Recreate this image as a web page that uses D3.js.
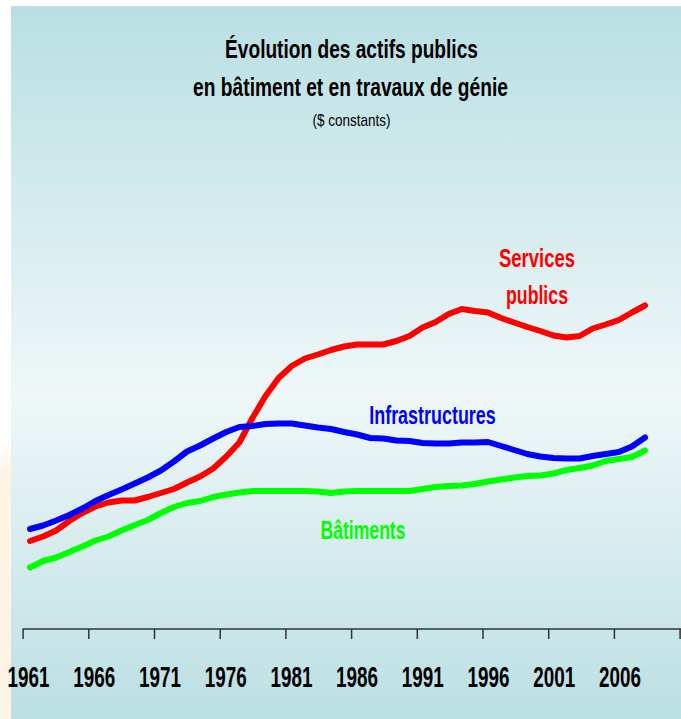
<!DOCTYPE html>
<html>
<head>
<meta charset="utf-8">
<script src="https://cdn.jsdelivr.net/npm/d3@7"></script>
<style>
  body { margin: 0; background: #ffffff; }
  svg { display: block; }
</style>
</head>
<body>
<div id="chart"></div>
<script>
var width = 681;
var height = 719;

// data (index, $ constants)
var years = d3.range(1961, 2009);
var services = [17.6, 18.5, 19.7, 21.6, 23.2, 24.5, 25.3, 25.7, 25.7, 26.4,
  27.2, 28.0, 29.3, 30.5, 32.1, 34.5, 37.3, 42.2, 46.6, 50.2,
  52.6, 54.1, 54.9, 55.8, 56.5, 56.9, 56.9, 56.9, 57.6, 58.6,
  60.3, 61.4, 63.0, 64.0, 63.6, 63.3, 62.2, 61.3, 60.4, 59.6,
  58.7, 58.3, 58.6, 60.1, 60.9, 61.8, 63.3, 64.7];
var infra = [20.0, 20.7, 21.7, 22.8, 24.1, 25.6, 26.8, 27.9, 29.1, 30.3,
  31.7, 33.5, 35.5, 36.7, 38.1, 39.4, 40.4, 40.6, 41.0, 41.1,
  41.1, 40.7, 40.3, 40.0, 39.4, 38.9, 38.2, 38.1, 37.7, 37.6,
  37.2, 37.1, 37.1, 37.3, 37.3, 37.4, 36.6, 35.8, 35.0, 34.5,
  34.2, 34.1, 34.1, 34.6, 35.0, 35.4, 36.5, 38.3];
var batiments = [12.3, 13.6, 14.3, 15.4, 16.5, 17.7, 18.5, 19.7, 20.8, 21.8,
  23.2, 24.4, 25.2, 25.6, 26.4, 26.9, 27.3, 27.6, 27.6, 27.6,
  27.6, 27.6, 27.5, 27.2, 27.5, 27.6, 27.6, 27.6, 27.6, 27.6,
  28.0, 28.4, 28.6, 28.7, 29.0, 29.5, 29.9, 30.3, 30.6, 30.7,
  31.1, 31.8, 32.2, 32.7, 33.6, 34.0, 34.4, 35.7];
var tickYears = d3.range(1961, 2012, 5);

var series = [
  {name: "Services publics", values: services, color: "#ff0000"},
  {name: "Infrastructures", values: infra, color: "#0000ff"},
  {name: "Bâtiments", values: batiments, color: "#00ff00"}
];

var svg = d3.select("#chart").append("svg")
  .attr("width", width).attr("height", height);

// background gradients
var defs = svg.append("defs");
var bg = defs.append("linearGradient").attr("id", "bg")
  .attr("x1", 0).attr("y1", 0).attr("x2", 0).attr("y2", 1);
bg.append("stop").attr("offset", "0%").attr("stop-color", "#b9dfe3");
bg.append("stop").attr("offset", "55%").attr("stop-color", "#eff7f8");
bg.append("stop").attr("offset", "100%").attr("stop-color", "#bbdfe3");
var cream = defs.append("linearGradient").attr("id", "cream")
  .attr("x1", 0).attr("y1", 0).attr("x2", 0).attr("y2", 1);
cream.append("stop").attr("offset", "0%").attr("stop-color", "#ffffff");
cream.append("stop").attr("offset", "12%").attr("stop-color", "#fdf4e4");
cream.append("stop").attr("offset", "100%").attr("stop-color", "#fdf4e6");

svg.append("rect").attr("x", 0).attr("y", 440).attr("width", 11).attr("height", height - 440)
  .attr("fill", "url(#cream)");
svg.append("rect").attr("x", 11).attr("y", 6).attr("width", width - 11).attr("height", height - 6)
  .attr("fill", "url(#bg)");

// squeeze text horizontally to a given width (the original uses a condensed face)
function fitText(sel, w) {
  sel.each(function() {
    var t = d3.select(this);
    var len = this.getComputedTextLength();
    var k = w / len;
    var x = +t.attr("x") || 0, y = +t.attr("y") || 0;
    t.attr("x", 0).attr("y", 0)
      .attr("transform", "translate(" + x + "," + y + ") scale(" + k + ",1)");
  });
}

var font = "'Liberation Sans Narrow', 'Liberation Sans', Arial, sans-serif";

// title
var titles = [
  {text: "Évolution des actifs publics", x: 351.5, y: 58, size: 25, bold: true, w: 253},
  {text: "en bâtiment et en travaux de génie", x: 350.5, y: 96, size: 25, bold: true, w: 315},
  {text: "($ constants)", x: 351.5, y: 126, size: 16, bold: false, w: 78}
];
titles.forEach(function(d) {
  svg.append("text")
    .attr("x", d.x).attr("y", d.y)
    .attr("text-anchor", "middle")
    .style("font-family", font)
    .style("font-size", d.size + "px")
    .style("font-weight", d.bold ? "bold" : "normal")
    .style("fill", "#000")
    .text(d.text)
    .call(fitText, d.w);
});

// scales
var xAxisScale = d3.scaleLinear().domain([1961, 2011]).range([22.6, 679.6]);
var x = d3.scalePoint().domain(years).range([30, 645]);
var y = d3.scaleLinear().domain([0, 100]).range([629, 129]);

// axis
var axis = svg.append("g")
  .attr("transform", "translate(0,629)")
  .call(d3.axisBottom(xAxisScale)
    .tickValues(tickYears)
    .tickSize(10)
    .tickSizeOuter(0)
    .tickFormat(function(d) { return d < 2011 ? d : ""; }));
axis.select(".domain").attr("stroke", "#333").attr("stroke-width", 1.5)
  .attr("d", "M" + xAxisScale(1961) + ",0H" + width);
axis.selectAll(".tick line").attr("stroke", "#333").attr("stroke-width", 1.5);
axis.selectAll(".tick text")
  .attr("x", 5.5).attr("y", 58).attr("dy", null)
  .style("font-family", font)
  .style("font-size", "29px")
  .style("font-weight", "bold")
  .attr("fill", "#000")
  .filter(function(d) { return d < 2011; })
  .call(fitText, 42);

// lines
var line = d3.line()
  .x(function(d, i) { return x(years[i]); })
  .y(function(d) { return y(d); });

svg.selectAll(".serie")
  .data(series)
  .enter()
  .append("path")
    .attr("class", "serie")
    .attr("d", function(d) { return line(d.values); })
    .attr("fill", "none")
    .attr("stroke", function(d) { return d.color; })
    .attr("stroke-width", 6)
    .attr("stroke-linejoin", "round")
    .attr("stroke-linecap", "round");

// series labels
var labels = [
  {text: "Services", x: 537, y: 266.5, w: 76, color: "#ff0000"},
  {text: "publics", x: 537, y: 304, w: 62, color: "#ff0000"},
  {text: "Infrastructures", x: 432.5, y: 423.5, w: 126.5, color: "#0000ff"},
  {text: "Bâtiments", x: 363, y: 538.5, w: 85, color: "#00ff00"}
];
labels.forEach(function(d) {
  svg.append("text")
    .attr("x", d.x).attr("y", d.y)
    .attr("text-anchor", "middle")
    .style("font-family", font)
    .style("font-size", "26px")
    .style("font-weight", "bold")
    .style("fill", d.color)
    .text(d.text)
    .call(fitText, d.w);
});
</script>
</body>
</html>
